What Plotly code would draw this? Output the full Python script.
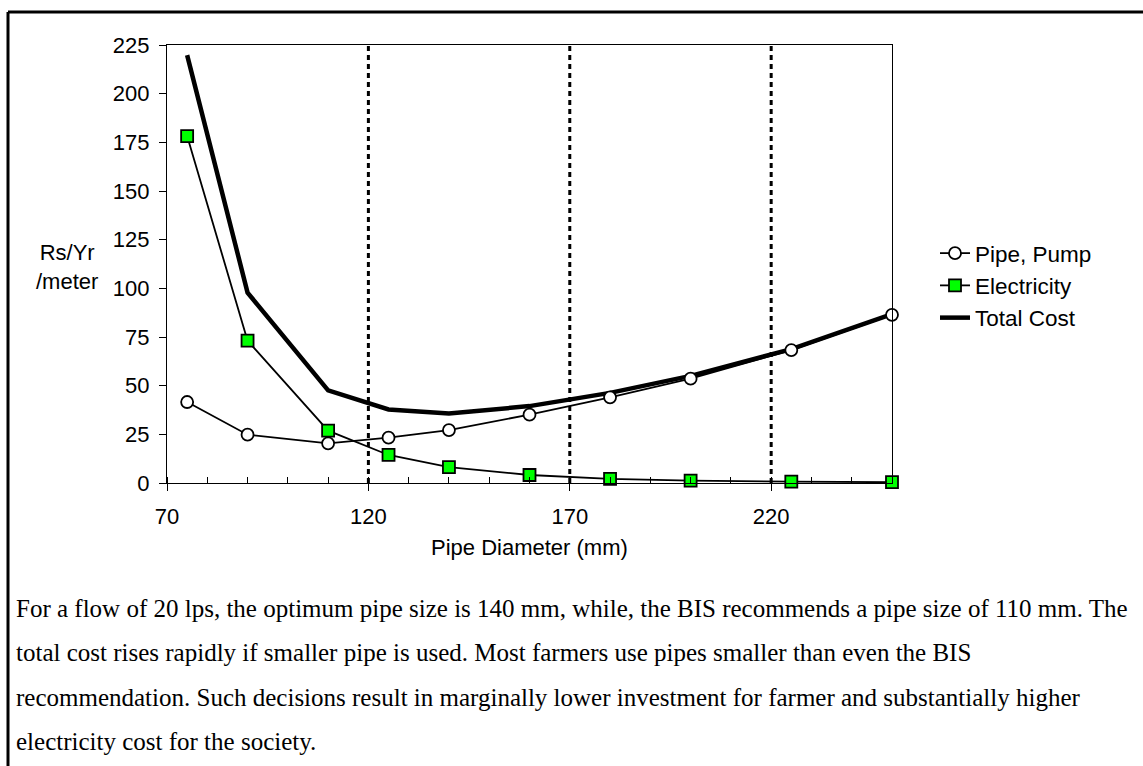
import plotly.graph_objects as go

# Pipe diameter (mm) and annual cost per metre (Rs/Yr/meter)
DIAMETER = [75, 90, 110, 125, 140, 160, 180, 200, 225, 250]
PIPE_PUMP = [41.6, 24.8, 20.4, 23.3, 27.2, 35.1, 44.0, 53.6, 68.3, 86.4]
ELECTRICITY = [178.2, 73.1, 26.9, 14.4, 8.2, 4.1, 2.1, 1.2, 0.7, 0.4]
TOTAL_COST = [219.8, 97.8, 47.6, 37.8, 35.7, 39.5, 46.3, 55.0, 68.8, 86.8]

REF_DIAMETERS = [120, 170, 220]
X_TICKS = [70, 120, 170, 220]
Y_TICKS = [0, 25, 50, 75, 100, 125, 150, 175, 200, 225]

NOTE_LINES = [
    "For a flow of 20 lps, the optimum pipe size is 140 mm, while, the BIS recommends a pipe size of 110 mm. The",
    "total cost rises rapidly if smaller pipe is used. Most farmers use pipes smaller than even the BIS",
    "recommendation. Such decisions result in marginally lower investment for farmer and substantially higher",
    "electricity cost for the society.",
]

W, H = 1143, 766
L, R, T, B = 167, 251, 45, 283
PW, PH = W - L - R, H - T - B


def px(x):
    return (x - L) / PW


def py(y):
    return (H - B - y) / PH


SANS = "Arial, Liberation Sans, sans-serif"
SERIF = "Times New Roman, Liberation Serif, serif"

fig = go.Figure()

fig.add_trace(go.Scatter(
    x=DIAMETER, y=TOTAL_COST, name="Total Cost", mode="lines",
    line=dict(color="black", width=4.5), legendrank=3, cliponaxis=False))
fig.add_trace(go.Scatter(
    x=DIAMETER, y=PIPE_PUMP, name="Pipe, Pump", mode="lines+markers",
    line=dict(color="black", width=1.8),
    marker=dict(symbol="circle", size=12, color="white", line=dict(color="black", width=1.8)),
    legendrank=1, cliponaxis=False))
fig.add_trace(go.Scatter(
    x=DIAMETER, y=ELECTRICITY, name="Electricity", mode="lines+markers",
    line=dict(color="black", width=1.8),
    marker=dict(symbol="square", size=12, color="#00ff00", line=dict(color="black", width=1.8)),
    legendrank=2, cliponaxis=False))

for d in REF_DIAMETERS:
    fig.add_shape(type="line", xref="x", yref="y", x0=d, x1=d, y0=0, y1=225,
                  line=dict(color="black", width=3, dash="5px,4px"), layer="above")

# outer frame: only the top and left edges fall inside the picture
fig.add_shape(type="line", xref="paper", yref="paper",
              x0=px(8), x1=px(1143), y0=py(12), y1=py(12),
              line=dict(color="black", width=3))
fig.add_shape(type="line", xref="paper", yref="paper",
              x0=px(8), x1=px(8), y0=py(12), y1=py(766),
              line=dict(color="black", width=3))

fig.add_annotation(text="Rs/Yr<br>/meter", xref="paper", yref="paper",
                   x=px(67), y=py(267), xanchor="center", yanchor="middle",
                   showarrow=False, align="center",
                   font=dict(family=SANS, size=22, color="black"))
fig.add_annotation(text="Pipe Diameter (mm)", xref="paper", yref="paper",
                   x=0.5, y=py(547), xanchor="center", yanchor="middle", showarrow=False,
                   font=dict(family=SANS, size=22, color="black"))

for i, line in enumerate(NOTE_LINES):
    fig.add_annotation(text=line, xref="paper", yref="paper", xanchor="left", yanchor="middle",
                       x=px(14), y=py(608 + i * 44.6), showarrow=False,
                       font=dict(family=SERIF, size=25, color="black"))

fig.update_layout(
    width=W, height=H,
    margin=dict(l=L, r=R, t=T, b=B),
    paper_bgcolor="white", plot_bgcolor="white",
    font=dict(family=SANS, size=22, color="black"),
    showlegend=True,
    legend=dict(x=px(935), y=py(232), xanchor="left", yanchor="top",
                bgcolor="rgba(0,0,0,0)", font=dict(family=SANS, size=22.5),
                tracegroupgap=0, itemwidth=30),
)

fig.update_xaxes(
    range=[70, 250], tickmode="array", tickvals=X_TICKS,
    showgrid=False, zeroline=False,
    showline=True, linecolor="black", linewidth=1.2, mirror=True,
    ticks="outside", ticklen=7, tickcolor="black",
    minor=dict(dtick=10, tick0=70, ticks="inside", ticklen=6, tickcolor="black", showgrid=False),
    ticklabelstandoff=6,
)
fig.update_yaxes(
    range=[0, 225], tickmode="array", tickvals=Y_TICKS,
    showgrid=False, zeroline=False,
    showline=True, linecolor="black", linewidth=1.2, mirror=True,
    ticks="outside", ticklen=7, tickcolor="black",
    ticklabelstandoff=5,
)

fig.write_html("out.html", config={"displayModeBar": False},
               post_script="document.body.style.margin='0';")
